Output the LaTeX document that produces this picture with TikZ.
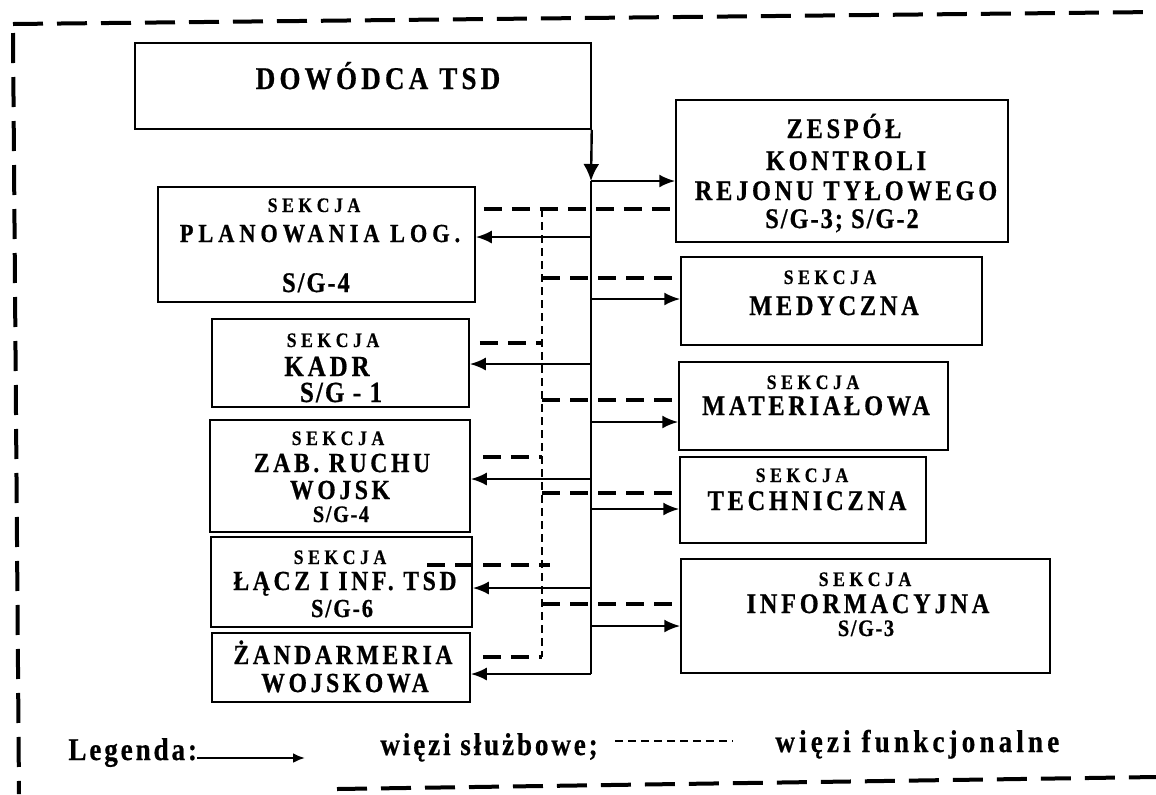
\documentclass[tikz,border=0pt]{standalone}
\usepackage{fontspec}
\setmainfont{Liberation Serif}
\newfontfamily\fbig{Liberation Serif}[FakeStretch=0.86,LetterSpace=13,FakeBold=0.6]
\newfontfamily\fsek{Liberation Serif}[FakeStretch=0.86,LetterSpace=22,FakeBold=0.5]
\newfontfamily\fsg{Liberation Serif}[FakeStretch=0.86,LetterSpace=7,FakeBold=0.6]
\newfontfamily\fpla{Liberation Serif}[FakeStretch=0.86,LetterSpace=19,FakeBold=0.6]
\newfontfamily\fleg{Liberation Serif}[FakeStretch=0.86,LetterSpace=9,FakeBold=0.5]
\newfontfamily\flegw{Liberation Serif}[FakeStretch=0.86,LetterSpace=13,FakeBold=0.5]
\usetikzlibrary{arrows.meta,fit,calc}
\begin{document}
\begin{tikzpicture}[x=0.5pt,y=-0.5pt,
  box/.style={draw,line width=0.75pt,inner sep=0pt},
  tl/.style={anchor=base,inner sep=0pt},
  txbig/.style={tl,font=\fbig\bfseries\fontsize{14.2pt}{15pt}\selectfont},
  txtight/.style={tl,font=\fbig\bfseries\fontsize{13.8pt}{15pt}\selectfont},
  txdow/.style={tl,font=\fbig\bfseries\fontsize{15.8pt}{17pt}\selectfont},
  txkad/.style={tl,font=\fbig\bfseries\fontsize{14.6pt}{16pt}\selectfont},
  txkadsg/.style={tl,font=\fsg\bfseries\fontsize{14.6pt}{16pt}\selectfont},
  txsek/.style={tl,font=\fsek\bfseries\fontsize{10.3pt}{11pt}\selectfont},
  txpla/.style={tl,font=\fpla\bfseries\fontsize{13pt}{14pt}\selectfont},
  txsg/.style={tl,font=\fsg\bfseries\fontsize{14.2pt}{15pt}\selectfont},
  txsgm/.style={tl,font=\fsg\bfseries\fontsize{13pt}{14pt}\selectfont},
  txsgs/.style={tl,font=\fsg\bfseries\fontsize{11.8pt}{13pt}\selectfont},
  txleg/.style={anchor=base west,inner sep=0pt,font=\fleg\bfseries\fontsize{15.8pt}{17pt}\selectfont},
  txlegw/.style={anchor=base west,inner sep=0pt,font=\flegw\bfseries\fontsize{15.8pt}{17pt}\selectfont},
  sline/.style={line width=1.2pt},
  sarr/.style={line width=1.2pt,-{Latex[length=8pt,width=6.5pt]}},
  bigarr/.style={line width=1.2pt,-{Latex[length=8.5pt,width=8pt]}},
  fdash/.style={line width=1.6pt,dash pattern=on 9pt off 5pt},
  vdash/.style={line width=0.9pt,dash pattern=on 4pt off 2.5pt},
  border/.style={line width=2pt,dash pattern=on 15pt off 7pt},
  legdash/.style={line width=0.8pt,dash pattern=on 4pt off 2.5pt}
]
\useasboundingbox (0,0) rectangle (1156,794);

% outer dashed frame
\draw[border] (13,24) -- (1156,12);
\draw[border] (13,33) -- (19,794);
\draw[border] (337,789) -- (1156,777);

% boxes
\node[box,fit={(135,43) (591,129)}] (dow) {};
\node[box,fit={(676,100) (1008,242)}] (zes) {};
\node[box,fit={(158,187) (475,302)}] (pla) {};
\node[box,fit={(212,319) (469,407)}] (kad) {};
\node[box,fit={(210,420) (470,532)}] (zab) {};
\node[box,fit={(211,537) (472,627)}] (lac) {};
\node[box,fit={(212,633) (470,702)}] (zan) {};
\node[box,fit={(681,257) (982,345)}] (med) {};
\node[box,fit={(679,362) (948,450)}] (mat) {};
\node[box,fit={(680,457) (926,543)}] (tec) {};
\node[box,fit={(681,559) (1050,673)}] (inf) {};

% texts
\node[txdow] (dow-t) at (378,89) {DOWÓDCA TSD};
\node[txbig] (zes-1) at (844,138) {ZESPÓŁ};
\node[txbig] (zes-2) at (846,170) {KONTROLI};
\node[txbig] (zes-3) at (846,200) {REJONU TYŁOWEGO};
\node[txsg] (zes-4) at (842,228) {S/G-3; S/G-2};
\node[txsek] (pla-1) at (314,212) {SEKCJA};
\node[txpla] (pla-2) at (320,242) {PLANOWANIA LOG.};
\node[txsg] (pla-3) at (316,292) {S/G-4};
\node[txsek] (kad-1) at (333,347) {SEKCJA};
\node[txkad] (kad-2) at (327,376) {KADR};
\node[txkadsg] (kad-3) at (341,402) {S/G - 1};
\node[txsek] (zab-1) at (338,445) {SEKCJA};
\node[txtight] (zab-2) at (342,472) {ZAB. RUCHU};
\node[txtight] (zab-3) at (340,499) {WOJSK};
\node[txsgs] (zab-4) at (341,522) {S/G-4};
\node[txsek] (lac-1) at (340,564) {SEKCJA};
\node[txtight] (lac-2) at (345,590) {ŁĄCZ I INF. TSD};
\node[txsgm] (lac-3) at (342,617) {S/G-6};
\node[txtight] (zan-1) at (343,664) {ŻANDARMERIA};
\node[txtight] (zan-2) at (345,692) {WOJSKOWA};
\node[txsek] (med-1) at (830,284) {SEKCJA};
\node[txbig] (med-2) at (834,315) {MEDYCZNA};
\node[txsek] (mat-1) at (813,389) {SEKCJA};
\node[txbig] (mat-2) at (816,415) {MATERIAŁOWA};
\node[txsek] (tec-1) at (802,482) {SEKCJA};
\node[txbig] (tec-2) at (807,510) {TECHNICZNA};
\node[txsek] (inf-1) at (865,586) {SEKCJA};
\node[txbig] (inf-2) at (868,613) {INFORMACYJNA};
\node[txsgs] (inf-3) at (866,636) {S/G-3};

% trunk coordinates (solid lines)
\coordinate (t0) at (591,181);
\coordinate (tpla) at (591,237);
\coordinate (tmed) at (591,299);
\coordinate (tkad) at (591,364);
\coordinate (tmat) at (591,422);
\coordinate (tzab) at (591,479);
\coordinate (ttec) at (591,509);
\coordinate (tlac) at (591,588);
\coordinate (tinf) at (591,626);
\coordinate (tzan) at (591,674);

\draw[bigarr] (dow.south east) -- (t0);
\draw[sline] (t0) -- (tzan);
\draw[sarr] (t0) -- (zes.west |- t0);
\draw[sarr] (tpla) -- (pla.east |- tpla);
\draw[sarr] (tmed) -- (med.west |- tmed);
\draw[sarr] (tkad) -- (kad.east |- tkad);
\draw[sarr] (tmat) -- (mat.west |- tmat);
\draw[sarr] (tzab) -- (zab.east |- tzab);
\draw[sarr] (ttec) -- (tec.west |- ttec);
\draw[sarr] (tlac) -- (lac.east |- tlac);
\draw[sarr] (tinf) -- (inf.west |- tinf);
\draw[sarr] (tzan) -- (zan.east |- tzan);

% functional (dashed) lines
\coordinate (v0) at (542,209);
\coordinate (vmed) at (542,278);
\coordinate (vkad) at (542,343);
\coordinate (vmat) at (542,400);
\coordinate (vzab) at (542,457);
\coordinate (vtec) at (542,493);
\coordinate (vlac) at (550,565);
\coordinate (vlacs) at (427,565);
\coordinate (vinf) at (542,604);
\coordinate (vzan) at (542,657);

\draw[vdash] (v0) -- (vzan);
\draw[fdash] ($(pla.east |- v0)+(8,0)$) -- (zes.west |- v0);
\draw[fdash] (vmed) -- (med.west |- vmed);
\draw[fdash] ($(kad.east |- vkad)+(10,0)$) -- (vkad);
\draw[fdash] (vmat) -- (mat.west |- vmat);
\draw[fdash] ($(zab.east |- vzab)+(12,0)$) -- (vzab);
\draw[fdash] (vtec) -- (tec.west |- vtec);
\draw[fdash] (vlacs) -- (vlac);
\draw[fdash] (vinf) -- (inf.west |- vinf);
\draw[fdash] ($(zan.east |- vzan)+(12,0)$) -- (vzan);

% legend
\node[txleg] (leg) at (68,760) {Legenda:};
\coordinate (la) at (197,758);
\coordinate (lb) at (305,758);
\draw[line width=1.3pt,-{Latex[length=6pt,width=5pt]}] (la) -- (lb);
\node[txleg] (leg-s) at (380,755) {więzi służbowe;};
\coordinate (lc) at (615,741);
\coordinate (ld) at (733,741);
\draw[legdash] (lc) -- (ld);
\node[txlegw] (leg-f) at (775,752) {więzi funkcjonalne};
\end{tikzpicture}
\end{document}
